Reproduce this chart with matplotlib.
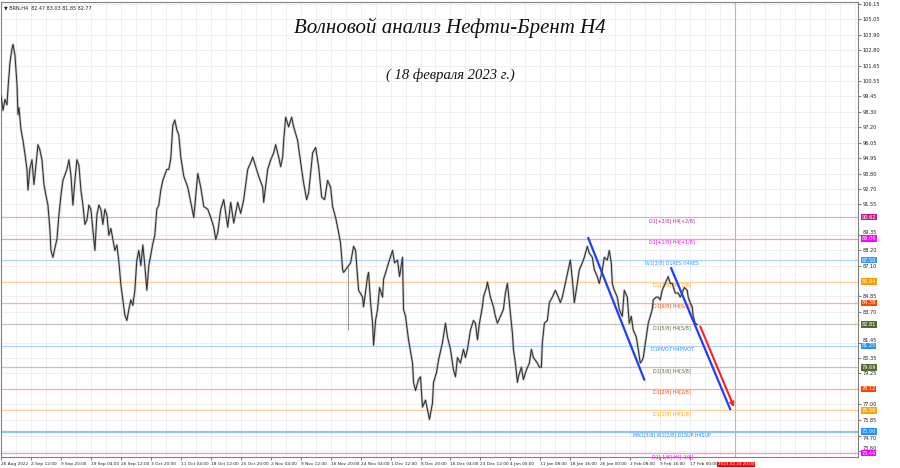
import numpy as np
import matplotlib.pyplot as plt
import matplotlib.transforms as mtransforms

# ---- цены закрытия BRN H4 (номер бара -> цена) ----
seg1_bars = [0, 2, 4, 6, 7, 9, 11, 12, 14, 16,
             17, 18, 20, 22, 24, 26, 27, 29, 31, 33,
             35, 37, 39, 41, 43, 45, 47, 49, 50, 52,
             54, 56, 58, 60, 62, 64, 66, 68, 70, 72,
             74, 76, 78, 80, 82, 84, 86, 88, 90, 92,
             94, 96, 98, 100, 102, 104, 106, 108, 110, 112,
             114, 116, 118, 120, 122, 124, 126, 128, 130, 132,
             134, 136, 138, 140, 142, 144, 146, 148, 150, 152,
             154, 156, 158, 160, 162, 164, 166, 168, 170, 172,
             174, 176, 178]
seg1_close = [99.5, 98.4, 99.2, 98.8, 100.0, 101.9, 102.9, 103.2, 102.4, 100.3,
              98.1, 98.6, 97.0, 96.2, 95.2, 94.1, 92.6, 94.2, 94.8, 93.0,
              94.4, 95.9, 95.5, 94.8, 93.0, 92.2, 91.5, 89.7, 88.2, 87.7,
              88.4, 89.0, 90.8, 92.2, 93.3, 93.7, 94.1, 94.8, 93.7, 91.5,
              93.3, 94.8, 94.4, 92.6, 91.5, 90.1, 90.4, 91.5, 91.2, 89.7,
              88.2, 90.8, 91.5, 91.2, 90.1, 91.2, 90.8, 89.3, 89.8, 89.0,
              88.2, 88.6, 87.4, 85.7, 84.6, 83.5, 83.1, 83.9, 84.6, 84.2,
              85.3, 87.5, 88.2, 87.1, 88.6, 87.1, 85.3, 87.1, 87.9, 88.7,
              89.3, 91.2, 91.5, 92.6, 93.3, 93.7, 94.1, 94.1, 94.9, 97.3,
              97.7, 97.0, 96.6]

seg2_bars = [180, 183, 187, 190, 193, 197, 200, 203, 207, 210,
             213, 215, 217, 220, 223, 227, 230, 233, 237, 240,
             243, 247, 250, 252, 255, 258, 262, 263, 267, 270,
             273, 275, 278, 280, 282, 283, 285, 288, 291, 293,
             297, 300, 303, 306, 308, 312, 315, 318, 321, 324,
             327, 330, 332, 335, 338, 340, 342, 343, 347, 350,
             353]
seg2_close = [95.0, 93.6, 92.8, 91.7, 90.6, 93.8, 92.8, 91.4, 91.2, 90.6,
              89.9, 89.0, 89.5, 91.2, 91.9, 89.9, 91.7, 90.2, 91.7, 90.9,
              91.9, 94.1, 94.6, 95.0, 94.3, 93.6, 92.8, 91.7, 94.1, 94.8,
              95.3, 95.9, 95.0, 94.3, 95.0, 96.2, 97.9, 97.2, 97.9, 97.2,
              96.2, 94.6, 93.1, 91.9, 92.4, 95.3, 95.7, 94.3, 92.1, 91.9,
              93.3, 92.8, 91.4, 90.6, 89.5, 88.7, 86.8, 86.6, 87.0, 87.3,
              88.5]

seg3_bars = [355, 358, 362, 363, 367, 368, 370, 372, 373, 375,
             377, 379, 382, 383, 386, 388, 392, 394, 397, 399,
             402, 403, 405, 408, 412, 413, 415, 418, 420, 422,
             425, 427, 429, 432, 433, 436, 438, 442, 445, 447,
             450, 453, 455, 457, 460, 463, 465, 467, 470, 473,
             475, 477, 479, 482, 483, 486, 487, 490, 493, 495,
             497, 500, 503, 505, 507, 508, 510, 512, 513, 515,
             517, 518, 521, 523, 526, 529]
seg3_close = [88.2, 85.3, 84.8, 84.1, 86.3, 86.6, 84.4, 82.9, 81.3, 83.1,
              83.9, 85.5, 84.8, 86.1, 86.8, 87.3, 88.2, 87.3, 87.5, 86.3,
              87.7, 83.9, 83.4, 81.7, 80.0, 78.6, 78.0, 78.8, 79.0, 76.8,
              77.3, 76.6, 75.9, 77.1, 78.6, 79.3, 80.2, 81.5, 82.9, 81.9,
              81.0, 79.5, 79.0, 80.4, 80.0, 81.0, 80.4, 81.0, 82.4, 83.1,
              82.9, 81.7, 82.9, 84.1, 84.8, 85.5, 85.9, 84.8, 84.1, 83.4,
              82.9, 83.4, 83.9, 85.1, 85.8, 85.1, 83.6, 82.2, 81.0, 80.0,
              78.6, 79.0, 79.7, 78.8, 79.5, 80.0]

seg4_bars = [531, 533, 537, 539, 541, 542, 544, 547, 549, 552,
             555, 558, 560, 562, 565, 568, 570, 572, 574, 577,
             579, 582, 584, 587, 589, 592, 594, 597, 599, 602,
             604, 607, 609, 611, 612, 614, 617, 619, 622, 624,
             627, 629, 631, 633, 636, 638, 640, 642, 643, 646,
             648, 650, 652, 653, 656, 658, 660, 662, 665, 668,
             670, 672, 675, 678, 680, 682, 684, 687, 688, 690,
             692, 693, 695, 697]
seg4_close = [81.0, 80.4, 80.0, 79.7, 79.7, 81.5, 82.9, 83.1, 84.4, 84.8,
              85.3, 84.8, 84.4, 84.8, 85.8, 86.8, 87.5, 86.1, 84.4, 85.8,
              86.8, 87.3, 87.7, 88.5, 88.0, 87.7, 86.8, 86.3, 85.8, 86.8,
              87.7, 87.5, 88.2, 87.3, 85.8, 85.3, 84.8, 83.9, 83.4, 85.3,
              84.8, 82.9, 83.4, 82.4, 81.9, 81.0, 80.0, 80.2, 80.4, 81.9,
              82.9, 83.4, 83.9, 84.6, 84.8, 84.8, 84.6, 85.3, 85.8, 86.3,
              85.8, 85.8, 85.1, 85.1, 84.8, 85.1, 85.5, 85.3, 84.8, 84.4,
              84.1, 83.4, 82.9, 82.8]

# длинная тень в конце ноября
wick_bar = [347]
wick_low = [82.4]
wick_high = [87.0]

# ось времени
time_labels = ["26 Aug 2022", "2 Sep 12:00", "9 Sep 20:00", "19 Sep 04:00",
               "26 Sep 12:00", "3 Oct 20:00", "11 Oct 04:00", "18 Oct 12:00",
               "25 Oct 20:00", "2 Nov 04:00", "9 Nov 12:00", "16 Nov 20:00",
               "24 Nov 04:00", "1 Dec 12:00", "8 Dec 20:00", "16 Dec 04:00",
               "23 Dec 12:00", "4 Jan 00:00", "11 Jan 08:00", "18 Jan 16:00",
               "26 Jan 00:00", "2 Feb 08:00", "9 Feb 16:00", "17 Feb 00:00"]
future_bar = 735
future_label = "2023.02.24 20:00"

# ось цены
price_ticks = [106.15, 105.05, 103.90, 102.80, 101.65, 100.55, 99.45, 98.30,
               97.20, 96.05, 94.95, 93.80, 92.70, 91.55, 89.35, 88.20, 87.10,
               84.85, 83.70, 81.45, 80.35, 79.25, 77.00, 75.85, 74.70, 73.60]

# уровни Мюррея
level_vals = [90.625, 89.0625, 87.5, 85.9375, 84.375, 82.8125, 81.25,
              79.6875, 78.125, 76.5625, 75.0, 73.4375]
level_box_text = ["90.62", "89.06", "87.50", "85.94", "84.38", "82.81", "81.25",
                  "79.69", "78.12", "76.56", "75.00", "73.44"]
level_names = ["D1[+2/8] H4[+2/8]", "D1[+1/8] H4[+1/8]", "W1[3/8] D1RES H4RES",
               "D1[7/8] H4[7/8]", "D1[6/8] H4[6/8]", "D1[5/8] H4[5/8]",
               "D1PIVOT H4PIVOT", "D1[3/8] H4[3/8]", "D1[2/8] H4[2/8]",
               "D1[1/8] H4[1/8]", "MN1[3/8] W1[2/8] D1SUP H4SUP", "D1[-1/8] H4[-1/8]"]
level_box = ["#cc1890", "#ff00ff", "#3399ff", "#ff9900", "#ff4500", "#556b2f",
             "#1e90ff", "#556b2f", "#ff4500", "#ffa500", "#1e90ff", "#ff00ff"]
level_line = ["#f0a0d8", "#ff88ff", "#b0d4ff", "#ffcf9a", "#ffae98", "#c4c4b8",
              "#b0d4ff", "#c4c4b8", "#ffae98", "#ffcf9a", "#8cc4ff", "#ff88ff"]

# трендовые линии
blue1_x, blue1_y = [588, 644], [89.1, 78.8]
blue2_x, blue2_y = [671, 730], [86.9, 76.65]
red_x, red_y = [699, 735], [82.85, 76.6]

bars = seg1_bars + seg2_bars + seg3_bars + seg4_bars
closes = seg1_close + seg2_close + seg3_close + seg4_close

fig = plt.figure(figsize=(9, 4.68), dpi=100)
ax = fig.add_axes([1 / 900, 11 / 468, 857 / 900, 455 / 468])
ax.set_xlim(0, 858)
ax.set_ylim(73.16, 106.29)

# сетка
ax.set_xticks(np.arange(0, 858, 15), minor=True)
ax.set_yticks(price_ticks)
ax.grid(which='both', color='#ececec', lw=0.6, zorder=0)
ax.set_axisbelow(True)

# уровни
for v, name, bc, lc in zip(level_vals, level_names, level_box, level_line):
    lw = 1.6 if name.startswith("MN1") else 0.9
    ax.axhline(v, color=lc, lw=lw, zorder=1)
    ax.text(672, v - 0.05, name, ha='center', va='top', fontsize=3.4, color=bc, zorder=2)

trans_y = mtransforms.blended_transform_factory(ax.transAxes, ax.transData)
for v, t, bc in zip(level_vals, level_box_text, level_box):
    ax.text(1.004, v, t, transform=trans_y, ha='left', va='center', fontsize=3.6,
            color='white', clip_on=False,
            bbox=dict(boxstyle='square,pad=0.15', fc=bc, ec='none'))

# будущая дата
ax.axvline(future_bar, color='#ff9a9a', lw=0.8, zorder=1)
trans_x = mtransforms.blended_transform_factory(ax.transData, ax.transAxes)
ax.text(future_bar + 1, -0.012, future_label, transform=trans_x, ha='center', va='top',
        fontsize=3.0, color='white', clip_on=False,
        bbox=dict(boxstyle='square,pad=0.15', fc='#ff0000', ec='none'))

# цена
ax.plot(bars, closes, color='#a8a8a8', lw=1.8, alpha=0.6, zorder=3)
ax.plot(bars, closes, color='#303030', lw=0.75, zorder=4)
ax.vlines(wick_bar, wick_low, wick_high, color='#909090', lw=0.7, zorder=3)

# трендовые линии и стрелка
ax.plot(blue1_x, blue1_y, color='#1f3fff', lw=1.6, zorder=5)
ax.plot(blue2_x, blue2_y, color='#1f3fff', lw=1.6, zorder=5)
ax.annotate('', xy=(red_x[1], red_y[1]), xytext=(red_x[0], red_y[0]),
            arrowprops=dict(arrowstyle='-|>', color='#ff2020', lw=1.5,
                            mutation_scale=6), zorder=6)

# оси
ax.set_xticks(np.arange(len(time_labels)) * 30)
ax.set_xticklabels(time_labels)
for lab in ax.get_xticklabels():
    lab.set_horizontalalignment('left')
ax.tick_params(axis='x', which='major', length=2, pad=1.5, labelsize=3.1,
               color='#808080', labelcolor='#202020')
ax.tick_params(axis='x', which='minor', length=0)
ax.yaxis.tick_right()
ax.set_yticklabels(["%.2f" % p for p in price_ticks])
ax.tick_params(axis='y', length=2, pad=1.5, labelsize=3.6, color='#808080',
               labelcolor='#202020')
# подписи цены рядом с плашками уровней сдвигаем, чтобы не налезали
for p, lab in zip(price_ticks, ax.get_yticklabels()):
    d = min(level_vals, key=lambda v: abs(v - p))
    if 0 < p - d < 0.3:
        lab.set_verticalalignment('bottom')
    elif 0 < d - p < 0.3:
        lab.set_verticalalignment('top')
for s in ax.spines.values():
    s.set_color('#808080')
    s.set_linewidth(0.8)

ax.text(0.004, 0.993, "\u25bc BRN,H4  82.47 83.03 81.85 82.77", transform=ax.transAxes,
        ha='left', va='top', fontsize=3.5, color='#202020')

# заголовок
fig.text(0.5, 0.94, "Волновой анализ Нефти-Брент H4", ha='center', va='center',
         fontsize=15, style='italic', color='#111111',
         family=['Liberation Serif', 'DejaVu Serif'])
fig.text(0.5, 0.84, "( 18 февраля 2023 г.)", ha='center', va='center',
         fontsize=10.5, style='italic', color='#111111',
         family=['Liberation Serif', 'DejaVu Serif'])

fig.savefig('out.png', dpi=100)
